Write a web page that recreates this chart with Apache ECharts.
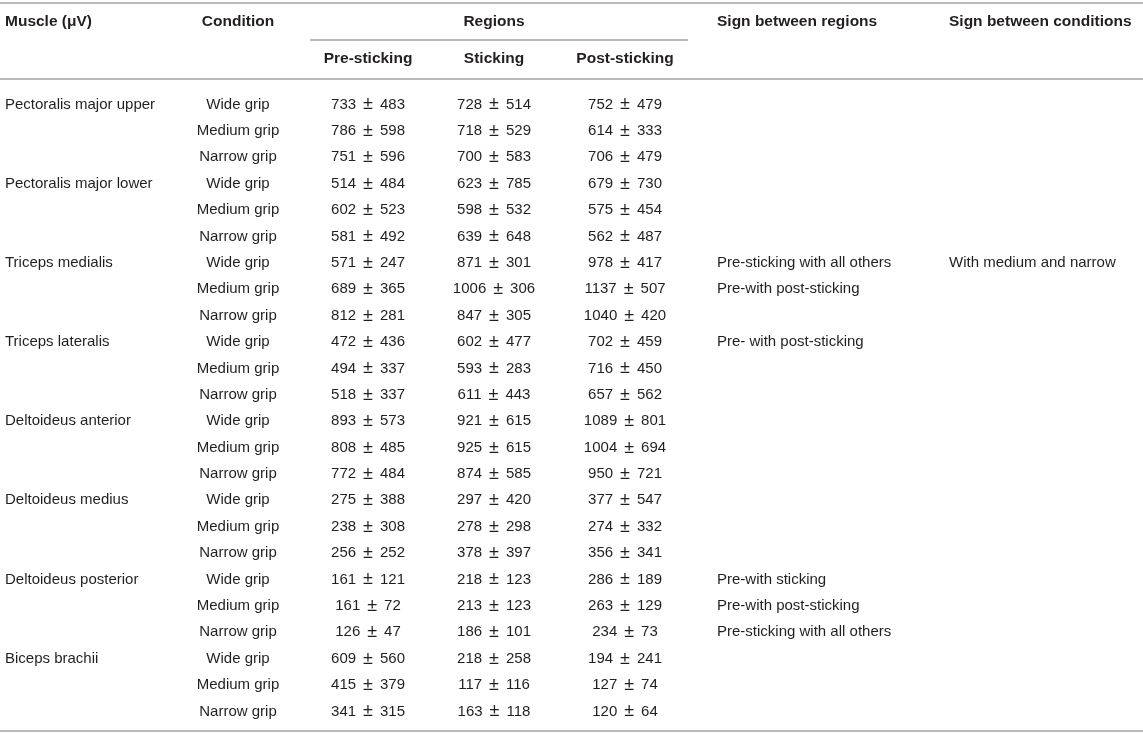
<!DOCTYPE html>
<html>
<head>
<meta charset="utf-8">
<script src="https://cdn.jsdelivr.net/npm/echarts@6/dist/echarts.min.js"></script>
<style>
html,body{margin:0;padding:0;background:#fff;}
#table1{width:1143px;height:734px;}
</style>
</head>
<body>
<div id="table1"></div>
<script>
// 肌肉 / 握距
var muscles=[
	'Pectoralis major upper',
	'Pectoralis major lower',
	'Triceps medialis',
	'Triceps lateralis',
	'Deltoideus anterior',
	'Deltoideus medius',
	'Deltoideus posterior',
	'Biceps brachii'];
var conditions=['Wide grip','Medium grip','Narrow grip'];

// 均值 ± 标准差, 24行 (8 muscles x 3 grips)
var preMean=[733,786,751, 514,602,581, 571,689,812, 472,494,518, 893,808,772, 275,238,256, 161,161,126, 609,415,341];
var preSd=  [483,598,596, 484,523,492, 247,365,281, 436,337,337, 573,485,484, 388,308,252, 121,72,47,   560,379,315];
var stickMean=[728,718,700, 623,598,639, 871,1006,847, 602,593,611, 921,925,874, 297,278,378, 218,213,186, 218,117,163];
var stickSd=  [514,529,583, 785,532,648, 301,306,305,  477,283,443, 615,615,585, 420,298,397, 123,123,101, 258,116,118];
var postMean=[752,614,706, 679,575,562, 978,1137,1040, 702,716,657, 1089,1004,950, 377,274,356, 286,263,234, 194,127,120];
var postSd=  [479,333,479, 730,454,487, 417,507,420,   459,450,562, 801,694,721,   547,332,341, 189,129,73,  241,74,64];

var signRegions=['','','', '','','',
	'Pre-sticking with all others','Pre-with post-sticking','',
	'Pre- with post-sticking','','',
	'','','', '','','',
	'Pre-with sticking','Pre-with post-sticking','Pre-sticking with all others',
	'','',''];
var signConditions=['','','', '','','',
	'With medium and narrow','','',
	'','','', '','','', '','','', '','','', '','',''];

var headTop=['Muscle (\u03bcV)','Condition','Regions','Sign between regions','Sign between conditions'];
var headSub=['Pre-sticking','Sticking','Post-sticking'];

// 版式
var ROW_H=26.39, ROW0=104.5;
var colX=[5,238,368,494,625,717,949];
var colAlign=['left','center','center','center','center','left','left'];
var HEAD1=-3.07-1.5/ROW_H, HEAD2=-1.667-1.5/ROW_H;
var textColor='#231f20', ruleColor='#a3a3a3';
var fontFamily='"Liberation Sans", Arial, sans-serif';
var bodyFont='15px '+fontFamily;
var headFont='bold 15.5px '+fontFamily;

function pm(m,s){ return m+'{pm| \u00b1 }'+s; }

var cells=[];
// 表头
cells.push([colX[0],HEAD1,headTop[0],1,'left']);
cells.push([colX[1],HEAD1,headTop[1],1,'center']);
cells.push([colX[3],HEAD1,headTop[2],1,'center']);
cells.push([colX[5],HEAD1,headTop[3],1,'left']);
cells.push([colX[6],HEAD1,headTop[4],1,'left']);
for(var h=0;h<headSub.length;h++){
	cells.push([colX[2+h],HEAD2,headSub[h],1,'center']);
}
// 数据行
for(var i=0;i<preMean.length;i++){
	if(i%3===0){ cells.push([colX[0],i,muscles[i/3],0,colAlign[0]]); }
	cells.push([colX[1],i,conditions[i%3],0,colAlign[1]]);
	cells.push([colX[2],i,pm(preMean[i],preSd[i]),0,colAlign[2]]);
	cells.push([colX[3],i,pm(stickMean[i],stickSd[i]),0,colAlign[3]]);
	cells.push([colX[4],i,pm(postMean[i],postSd[i]),0,colAlign[4]]);
	if(signRegions[i]){ cells.push([colX[5],i,signRegions[i],0,colAlign[5]]); }
	if(signConditions[i]){ cells.push([colX[6],i,signConditions[i],0,colAlign[6]]); }
}

// 横线 [x1, x2, y像素]
var rules=[[0,1143,3],[310,688,40],[0,1143,79],[0,1143,731]];

var myTable=echarts.init(document.getElementById('table1'));
myTable.setOption({
	animation:false,
	grid:{left:0,right:0,top:0,bottom:0},
	xAxis:{type:'value',min:0,max:1143,show:false},
	yAxis:{type:'value',min:-ROW0/ROW_H,max:(734-ROW0)/ROW_H,inverse:true,show:false},
	series:[{
		type:'custom',
		data:rules,
		renderItem:function(params,api){
			var r=(api.value(2)-ROW0)/ROW_H;
			var a=api.coord([api.value(0),r]);
			var b=api.coord([api.value(1),r]);
			return {type:'line',shape:{x1:a[0],y1:a[1],x2:b[0],y2:b[1]},
				style:{stroke:ruleColor,lineWidth:1.5}};
		}
	},{
		type:'custom',
		data:cells,
		renderItem:function(params,api){
			var c=cells[params.dataIndex];
			var p=api.coord([c[0],c[1]]);
			return {type:'text',x:p[0],y:p[1],
				style:{text:c[2],textAlign:c[4],textVerticalAlign:'middle',
					font:c[3]?headFont:bodyFont,
					fill:textColor,
					rich:{pm:{fontSize:18,fontFamily:fontFamily,fill:textColor,
						padding:[0,2,0,2]}}}};
		}
	}]
});
</script>
</body>
</html>
